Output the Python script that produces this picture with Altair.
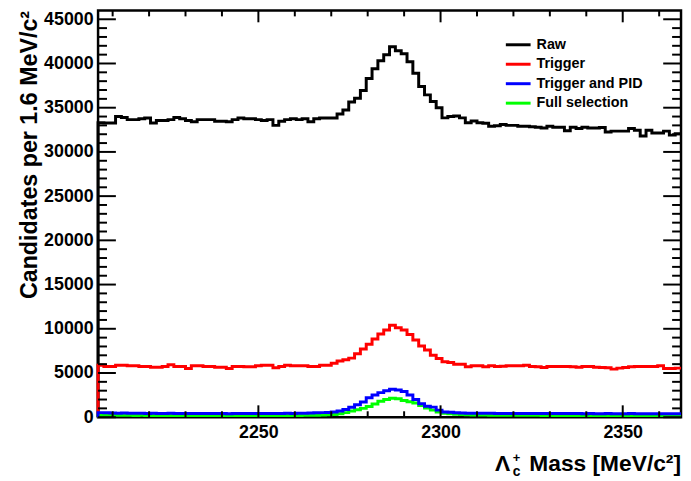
import altair as alt
import pandas as pd

FONT = "Liberation Sans"

X_START = 2206.0
BIN_WIDTH = 1.6
X_MAX = 2366.0
Y_MAX = 46000

raw = [33300, 33280, 33280, 34000, 33900, 33650, 33650, 33750, 33830, 33280,
       33550, 33550, 33650, 33900, 33750, 33550, 33400, 33650, 33650, 33650,
       33460, 33460, 33400, 33650, 33830, 33750, 33750, 33650, 33550, 33650,
       33000, 33460, 33650, 33750, 33650, 33750, 33400, 33750, 33830, 33830,
       33830, 34300, 34750, 35650, 36080, 36950, 38300, 39400, 40300, 41000,
       41900, 41450, 41100, 40200, 38900, 37400, 36450, 35700, 35000, 33850,
       34000, 34050, 33850, 33300, 33500, 33300, 33250, 32900, 32950, 33100,
       33000, 33000, 32900, 32900, 32850, 32800, 32700, 32900, 32800, 32800,
       32400, 32800, 32650, 32800, 32700, 32700, 32750, 32250, 32350, 32350,
       32350, 32650, 32450, 31800, 32450, 32150, 32150, 32350, 31900, 32050]

trigger = [5885, 5736, 5736, 5885, 5885, 5810, 5810, 5736, 5736, 5660,
           5660, 5736, 5920, 5736, 5736, 5512, 5810, 5810, 5736, 5736,
           5660, 5660, 5512, 5736, 5736, 5700, 5700, 5810, 5885, 5885,
           5590, 5736, 5885, 5810, 5810, 5810, 5736, 5736, 5885, 5885,
           6100, 6350, 6500, 6680, 7180, 7720, 8250, 8850, 9400, 9850,
           10400, 10110, 9850, 9360, 8730, 8050, 7610, 7010, 6630, 6260,
           6180, 6000, 6000, 5700, 5810, 5810, 5700, 5810, 5736, 5770,
           5810, 5810, 5810, 5885, 5736, 5700, 5624, 5736, 5736, 5736,
           5736, 5700, 5660, 5736, 5736, 5660, 5624, 5590, 5437, 5550,
           5624, 5700, 5736, 5736, 5736, 5736, 5810, 5512, 5512, 5550]

trig_pid = [520, 500, 480, 460, 470, 450, 440, 450, 430, 440,
            430, 420, 440, 430, 420, 430, 410, 420, 430, 410,
            420, 410, 400, 420, 410, 420, 410, 420, 430, 420,
            410, 430, 440, 430, 450, 460, 480, 500, 520, 540,
            580, 700, 860, 1130, 1400, 1720, 2200, 2520, 2780, 3000,
            3150, 3080, 2900, 2520, 2000, 1510, 1250, 1140, 800, 600,
            560, 500, 470, 460, 450, 450, 440, 440, 430, 430,
            430, 420, 420, 420, 430, 420, 410, 420, 410, 410,
            410, 420, 410, 400, 410, 400, 400, 410, 400, 400,
            400, 410, 400, 390, 400, 400, 390, 400, 390, 390]

full_sel = [230, 220, 220, 210, 210, 210, 200, 210, 200, 200,
            200, 200, 200, 200, 190, 200, 190, 200, 190, 190,
            190, 190, 190, 190, 190, 190, 190, 200, 190, 190,
            190, 200, 200, 200, 200, 210, 220, 230, 250, 270,
            300, 400, 520, 700, 850, 1000, 1200, 1500, 1800, 2000,
            2150, 2080, 1900, 1750, 1600, 1330, 1030, 800, 600, 450,
            380, 330, 300, 280, 260, 250, 240, 230, 230, 220,
            220, 220, 210, 210, 210, 210, 200, 200, 200, 200,
            200, 200, 200, 190, 190, 190, 190, 190, 190, 190,
            190, 190, 180, 180, 180, 180, 180, 180, 180, 180]

names = ["Raw", "Trigger", "Trigger and PID", "Full selection"]
colors = ["#000000", "#ff0000", "#0000ff", "#00ff00"]

x_major = [2250, 2300, 2350]
x_minor = [v for v in range(2210, 2361, 10) if v not in x_major]
y_major = list(range(0, 45001, 5000))
y_minor = [v for v in range(1000, 46000, 1000) if v % 5000 != 0]

xscale = alt.Scale(domain=[X_START, X_MAX], nice=False, zero=False)
yscale = alt.Scale(domain=[0, Y_MAX], nice=False, zero=True)

W, H = 589, 411

x_axis = alt.Axis(values=x_major, ticks=False, domain=False, grid=False,
                  labelFont=FONT, labelFontSize=18, labelFontWeight="bold",
                  labelColor="black", labelPadding=7, title=None, format="d")
y_axis = alt.Axis(values=y_major, ticks=False, domain=False, grid=False,
                  labelFont=FONT, labelFontSize=18, labelFontWeight="bold",
                  labelColor="black", labelPadding=5, format="d",
                  title="Candidates per 1.6 MeV/c²", titleFont=FONT,
                  titleFontSize=23.5, titleFontWeight="bold", titleColor="black",
                  titleAngle=270, titleAlign="right", titleBaseline="alphabetic",
                  titleX=-62, titleY=0)

XENC = dict(scale=xscale, axis=x_axis)
YENC = dict(scale=yscale, axis=y_axis)


def hist_df(vals):
    xs = [X_START] + [X_START + BIN_WIDTH * i for i in range(len(vals) + 1)]
    ys = [0] + list(vals) + [vals[-1]]
    return pd.DataFrame({"x": xs, "y": ys, "i": list(range(len(xs)))})


def hist_layer(vals, color):
    return alt.Chart(hist_df(vals)).mark_line(
        interpolate="step-after", color=color, strokeWidth=3
    ).encode(
        x=alt.X("x:Q", **XENC),
        y=alt.Y("y:Q", **YENC),
        order=alt.Order("i:Q"),
    )


layers = [
    hist_layer(raw, colors[0]),
    hist_layer(trigger, colors[1]),
    hist_layer(full_sel, colors[3]),
    hist_layer(trig_pid, colors[2]),
]

# ROOT-style inward ticks on all four sides
xmaj = pd.DataFrame({"t": x_major})
xmin = pd.DataFrame({"t": x_minor})
ymaj = pd.DataFrame({"v": y_major})
ymin = pd.DataFrame({"v": y_minor})


def xticks(df, length):
    b = alt.Chart(df).mark_rule(color="black", strokeWidth=2).encode(
        x=alt.X("t:Q", **XENC), y=alt.value(H), y2=alt.value(H - length))
    t = alt.Chart(df).mark_rule(color="black", strokeWidth=2).encode(
        x=alt.X("t:Q", **XENC), y=alt.value(0), y2=alt.value(length))
    return [b, t]


def yticks(df, length):
    l = alt.Chart(df).mark_rule(color="black", strokeWidth=2).encode(
        y=alt.Y("v:Q", **YENC), x=alt.value(0), x2=alt.value(length))
    r = alt.Chart(df).mark_rule(color="black", strokeWidth=2).encode(
        y=alt.Y("v:Q", **YENC), x=alt.value(W), x2=alt.value(W - length))
    return [l, r]


layers += xticks(xmaj, 12) + xticks(xmin, 6) + yticks(ymaj, 18) + yticks(ymin, 9)

main = alt.layer(*layers)

# legend
leg_df = pd.DataFrame({"name": names})
leg_y = alt.Y("name:N", scale=alt.Scale(type="point", domain=names,
                                        range=[34.7, 93.7], padding=0), axis=None)
leg_col = alt.Color("name:N", scale=alt.Scale(domain=names, range=colors), legend=None)
leg_rule = alt.Chart(leg_df).mark_rule(strokeWidth=3).encode(
    y=leg_y, x=alt.value(412), x2=alt.value(437), color=leg_col)
leg_text = alt.Chart(leg_df).mark_text(
    align="left", baseline="middle", font=FONT, fontSize=14.5,
    fontWeight="bold", color="black").encode(
    y=leg_y, x=alt.value(443), text="name:N")
legend = alt.layer(leg_rule, leg_text)

# x-axis title with sub/superscripts
one = pd.DataFrame({"a": [0]})


def label(txt, x, y, size, align="left", baseline="alphabetic"):
    return alt.Chart(one).mark_text(
        text=txt, align=align, baseline=baseline, font=FONT, fontSize=size,
        fontWeight="bold", color="black").encode(x=alt.value(x), y=alt.value(y))


xtitle = alt.layer(
    label("Mass [MeV/c²]", W, 465, 23, align="right"),
    label("Λ", 401, 465, 23),
    label("+", 419, 456, 13),
    label("c", 419, 470, 14),
)

chart = alt.layer(main, legend, xtitle).resolve_scale(
    y="independent", color="independent"
).properties(
    width=W, height=H,
    padding={"left": 91, "top": 0, "right": 2, "bottom": 62},
    autosize=alt.AutoSizeParams(type="none"),
).configure_view(stroke="black", strokeWidth=2.5)

chart.save("out.html", embed_options={"renderer": "svg", "actions": False})
